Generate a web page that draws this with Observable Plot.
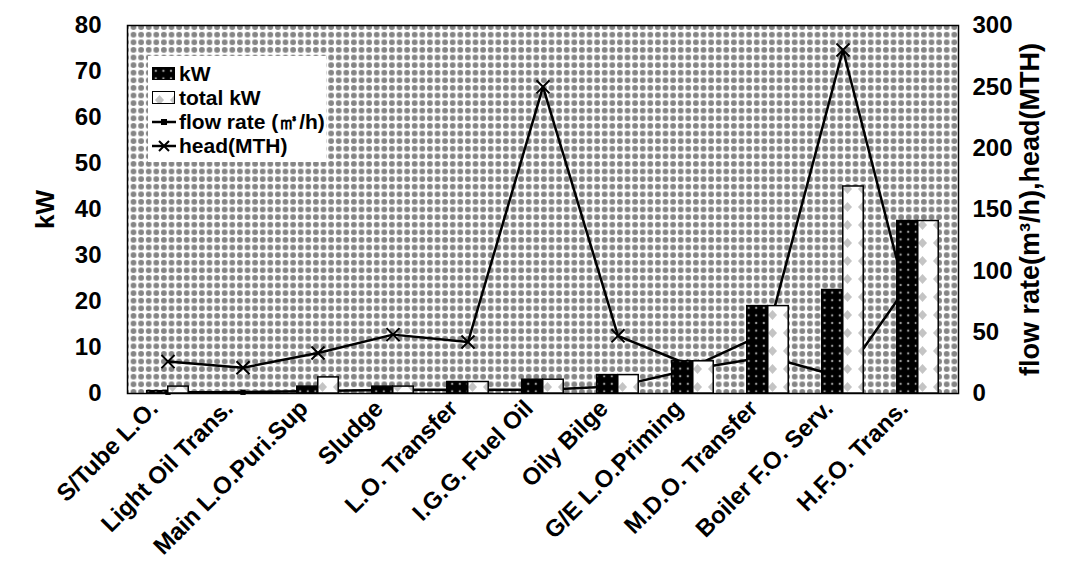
<!DOCTYPE html>
<html>
<head>
<meta charset="utf-8">
<script src="https://cdn.jsdelivr.net/npm/d3@7"></script>
<script src="https://cdn.jsdelivr.net/npm/@observablehq/plot@0.6"></script>
<style>
  html, body { margin: 0; padding: 0; background: #fff; }
  #wrap { position: relative; width: 1070px; height: 575px; overflow: hidden; font-family: "Liberation Sans", Arial, sans-serif; }
  #legend { position: absolute; left: 148px; top: 56px; width: 178px; height: 106px; background: #fff; font-weight: bold; font-size: 21px; color: #000; }
  #legend .row { display: flex; align-items: center; height: 24px; margin-left: 4px; }
  #legend .row:first-child { margin-top: 6px; }
  #legend svg { margin-right: 3px; }
</style>
</head>
<body>
<svg width="0" height="0" style="position:absolute">
  <defs>
    <pattern id="bg" width="7.6" height="7.6" patternUnits="userSpaceOnUse">
      <rect width="7.6" height="7.6" fill="#fff"/>
      <circle cx="3.8" cy="3.8" r="2.9" fill="#858585"/>
    </pattern>
    <pattern id="dk" width="7.6" height="7.6" patternUnits="userSpaceOnUse">
      <rect width="7.6" height="7.6" fill="#000"/>
      <circle cx="3.8" cy="3.8" r="1.2" fill="#9a9a9a"/>
    </pattern>
    <pattern id="lt" width="15" height="18" patternUnits="userSpaceOnUse">
      <rect width="15" height="18" fill="#fff"/>
      <polygon points="7.5,4 12,9 7.5,14 3,9" fill="#c4c4c4"/>
    </pattern>
  </defs>
</svg>
<div id="wrap">
  <div id="chart"></div>
  <div id="legend">
    <div class="row"><svg width="24" height="14"><rect x="0.5" y="0.5" width="22" height="12" fill="url(#dk)" stroke="#000"/></svg>kW</div>
    <div class="row"><svg width="24" height="14"><rect x="0.5" y="0.5" width="22" height="12" fill="url(#lt)" stroke="#000"/></svg>total kW</div>
    <div class="row"><svg width="24" height="14"><line x1="0" y1="7" x2="24" y2="7" stroke="#000" stroke-width="2.5"/><rect x="9" y="4" width="6" height="6" fill="#000"/></svg>flow rate (㎥/h)</div>
    <div class="row"><svg width="24" height="14"><line x1="0" y1="7" x2="24" y2="7" stroke="#000" stroke-width="2.5"/><path d="M7,2 L17,12 M17,2 L7,12" stroke="#000" stroke-width="2"/></svg>head(MTH)</div>
  </div>
</div>
<script>
const categories = ["S/Tube L.O.", "Light Oil Trans.", "Main L.O.Puri.Sup", "Sludge", "L.O. Transfer", "I.G.G. Fuel Oil", "Oily Bilge", "G/E L.O.Priming", "M.D.O. Transfer", "Boiler F.O. Serv.", "H.F.O. Trans."];
const kW       = [0.5, 0.3, 1.5, 1.5, 2.5, 3, 4, 7, 19, 22.5, 37.5];
const totalKW  = [1.5, 0.3, 3.5, 1.5, 2.5, 3, 4, 7, 19, 45, 37.5];
const flowRate = [1, 1, 2, 3, 3, 3, 6, 20, 30, 13, 100];
const head     = [26, 21, 33, 48, 42, 250, 47, 22, 50, 280, 42];
const leftTicks  = [0, 10, 20, 30, 40, 50, 60, 70, 80];
const rightTicks = [0, 50, 100, 150, 200, 250, 300];

const W = 1070, H = 575;
const ml = 127, mr = 112, mt = 25, mb = 182;
const k = 80 / 300; // right axis (0-300) mapped onto left axis (0-80)
const bw = (W - ml - mr) / categories.length;
const barW = 21;

const rows = categories.map((c, i) => ({cat: c, kW: kW[i], total: totalKW[i], flow: flowRate[i] * k, head: head[i] * k}));

const chart = Plot.plot({
  width: W, height: H,
  marginLeft: ml, marginRight: mr, marginTop: mt, marginBottom: mb,
  style: {fontFamily: "'Liberation Sans', Arial, sans-serif", fontWeight: "bold", fontSize: "24px", color: "#000", background: "transparent", overflow: "visible"},
  x: {domain: categories, padding: 0, label: null},
  y: {domain: [0, 80], label: null},
  marks: [
    Plot.frame({fill: "url(#bg)", stroke: "#000", strokeWidth: 1.5}),
    Plot.line(rows, {x: "cat", y: "flow", stroke: "#000", strokeWidth: 2.5}),
    Plot.dot(rows, {x: "cat", y: "flow", symbol: "square", r: 3, fill: "#000", stroke: "none"}),
    Plot.line(rows, {x: "cat", y: "head", stroke: "#000", strokeWidth: 2.5}),
    Plot.dot(rows, {x: "cat", y: "head", symbol: "times", r: 6, stroke: "#000", strokeWidth: 2}),
    Plot.barY(rows, {x: "cat", y: "kW", fill: "url(#dk)", stroke: "#000", strokeWidth: 1.5, insetLeft: bw / 2 - barW, insetRight: bw / 2}),
    Plot.barY(rows, {x: "cat", y: "total", fill: "url(#lt)", stroke: "#000", strokeWidth: 1.5, insetLeft: bw / 2, insetRight: bw / 2 - barW}),
    Plot.axisY({ticks: leftTicks, tickSize: 0, tickPadding: 26, fontSize: 24, label: null}),
    Plot.axisY({ticks: [], label: "kW", labelAnchor: "center", labelArrow: "none", labelOffset: 92, fontSize: 26}),
    Plot.axisY({anchor: "right", ticks: rightTicks.map(t => t * k), tickFormat: d => String(Math.round(d / k)), tickSize: 0, tickPadding: 14, fontSize: 24, label: null}),
    Plot.axisY({anchor: "right", ticks: [], label: "flow rate(m³/h),head(MTH)", labelAnchor: "center", labelArrow: "none", labelOffset: 80, fontSize: 27}),
    Plot.axisX({tickRotate: -45, tickSize: 0, tickPadding: 11, dx: -14, fontSize: 24, label: null})
  ]
});
document.getElementById("chart").appendChild(chart);
</script>
</body>
</html>
